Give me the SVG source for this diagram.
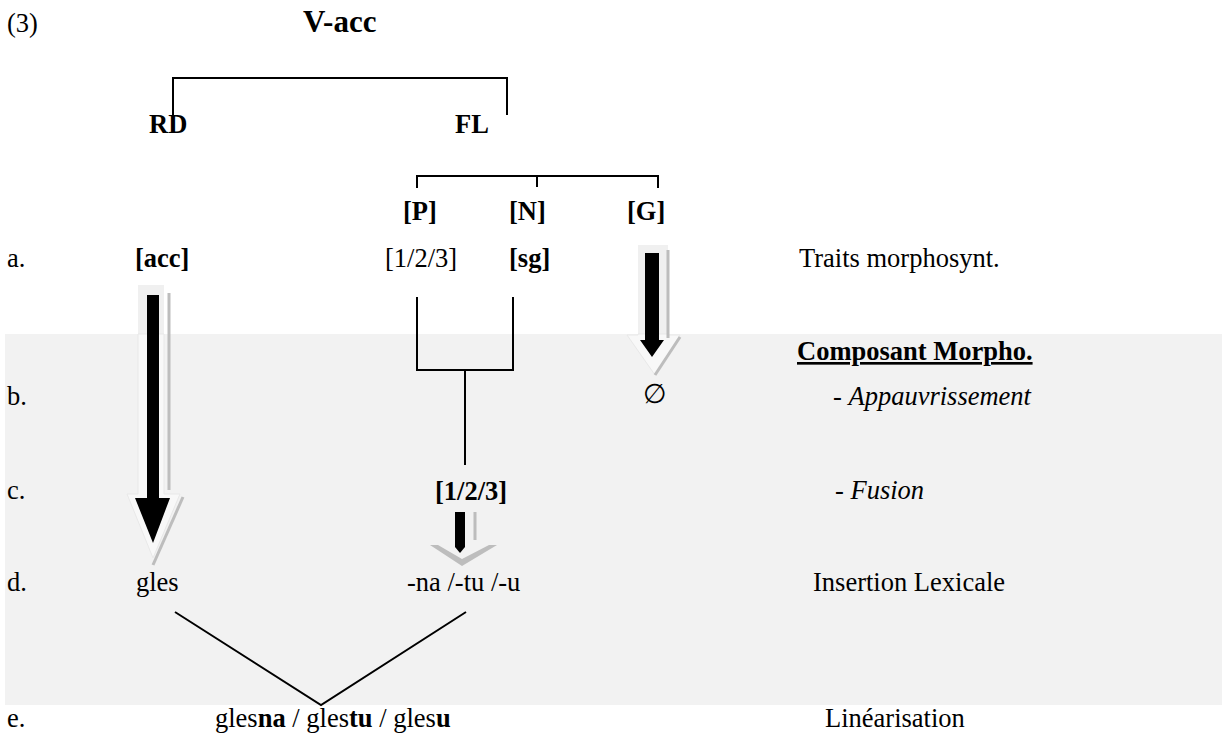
<svg xmlns="http://www.w3.org/2000/svg" width="1224" height="736" viewBox="0 0 1224 736">
<style>
text{font-family:"Liberation Serif","Times New Roman",serif;font-size:26.5px;fill:#000}
.b{font-weight:bold}
.i{font-style:italic}
.ln{stroke:#000;stroke-width:2;fill:none}
.sh{stroke:#bdbdbd;stroke-width:3;fill:none}
.lt{fill:#f0f0f0}
.wt{fill:#f8f8f8;stroke:#e8e8e8;stroke-width:1}
</style>
<rect x="5" y="334" width="1217" height="371" fill="#f2f2f2"/>
<g id="connectors">
<polyline class="ln" points="173,132 173,78 507,78 507,115"/>
<polyline class="ln" points="417,188 417,176 658,176 658,188"/>
<line class="ln" x1="537" y1="176" x2="537" y2="187"/>
<polyline class="ln" points="417,297 417,370 513,370 513,297"/>
<line class="ln" x1="465" y1="370" x2="465" y2="465"/>
<polyline class="ln" points="175,612 321,705 466,612"/>
</g>
<g id="arrow-acc">
<rect class="lt" x="138" y="285" width="26" height="49"/>
<polygon class="wt" points="138,334 164,334 164,494 180,494 153,558 127,494 138,494"/>
<line class="sh" x1="169" y1="293" x2="169" y2="490"/>
<line class="sh" x1="183" y1="497" x2="153" y2="565"/>
<polygon points="147,295 159,295 159,498 170,498 153,543 135,498 147,498" fill="#000"/>
</g>
<g id="arrow-g">
<rect class="lt" x="638" y="245" width="30" height="89"/>
<polygon class="wt" points="638,334 668,334 668,335 680,335 655,375 627,335 638,335"/>
<line class="sh" x1="668" y1="250" x2="668" y2="338"/>
<line class="sh" x1="680" y1="337" x2="655" y2="375"/>
<polygon points="645,253 659,253 659,340 664,340 652,357 640,340 645,340" fill="#000"/>
</g>
<g id="arrow-fusion">
<line class="sh" x1="475" y1="512" x2="475" y2="540"/>
<polygon points="430,545 438,545 462,559 489,545 497,545 462,566" fill="#bdbdbd"/>
<path d="M455,512 H465 V547 L460,553 L455,547 Z" fill="#000"/>
</g>
<g id="title"><text x="7" y="32">(3)</text><text class="b" x="303" y="32" style="font-size:31px">V-acc</text></g>
<g id="node-RD"><text class="b" x="149" y="133">RD</text></g>
<g id="node-FL"><text class="b" x="455" y="133">FL</text></g>
<g id="node-P"><text class="b" x="403" y="220">[P]</text></g>
<g id="node-N"><text class="b" x="509" y="220">[N]</text></g>
<g id="node-G"><text class="b" x="627" y="220">[G]</text></g>
<g id="row-a">
<text x="7" y="267">a.</text>
<text class="b" x="135" y="267">[acc]</text>
<text x="385" y="267">[1/2/3]</text>
<text class="b" x="509" y="267">[sg]</text>
<text x="799" y="267">Traits morphosynt.</text>
</g>
<g id="row-morpho">
<text class="b" x="797" y="360" text-decoration="underline">Composant Morpho.</text>
</g>
<g id="row-b">
<text x="7" y="405">b.</text>
<text x="643" y="403">∅</text>
<text x="833" y="405">- <tspan class="i">Appauvrissement</tspan></text>
</g>
<g id="row-c">
<text x="7" y="499">c.</text>
<text class="b" x="435" y="500">[1/2/3]</text>
<text x="835" y="499">- <tspan class="i">Fusion</tspan></text>
</g>
<g id="row-d">
<text x="7" y="591">d.</text>
<text x="136" y="591">gles</text>
<text x="407" y="591">-na /-tu /-u</text>
<text x="813" y="591">Insertion Lexicale</text>
</g>
<g id="row-e">
<text x="7" y="727">e.</text>
<text x="215" y="727">gles<tspan class="b">na</tspan> / gles<tspan class="b">tu</tspan> / gles<tspan class="b">u</tspan></text>
<text x="825" y="727">Linéarisation</text>
</g>
</svg>
